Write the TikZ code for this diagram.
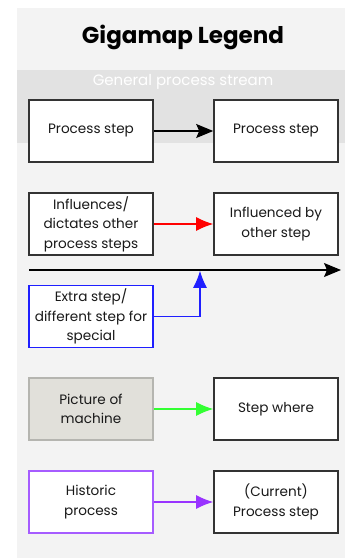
\documentclass[tikz,border=0pt]{standalone}
\usepackage{fontspec}
\setmainfont{Poppins}
\usetikzlibrary{arrows.meta}
\definecolor{panelbg}{HTML}{F3F3F3}
\definecolor{bandbg}{HTML}{E2E2E2}
\definecolor{boxline}{HTML}{333333}
\definecolor{machinefill}{HTML}{E1E0DA}
\definecolor{machineline}{HTML}{B5B5B0}
\definecolor{extrablue}{HTML}{1F1FFF}
\definecolor{histpurple}{HTML}{A65CFF}
\definecolor{histarrow}{HTML}{9933FF}
\definecolor{machgreen}{HTML}{33FF33}
\begin{document}
\begin{tikzpicture}[x=1pt,y=-1pt,
  stepbox/.style={draw=boxline,line width=1.6pt,fill=white,minimum width=124pt,minimum height=62pt,
    inner sep=0pt,align=center,font=\fontsize{13.6}{19.5}\selectfont,text=black!90},
  flow/.style={line width=1.2pt,-{Stealth[length=17pt,width=14pt,inset=3pt]}},
  tip/.style={line width=1.2pt,-{Latex[length=17pt,width=14pt]}}]
  \useasboundingbox (0,0) rectangle (345,558);
  % backdrop panels
  \fill[white] (0,0) rectangle (345,558);
  \fill[panelbg] (17,8) rectangle (345,558);
  \fill[bandbg] (17,70) rectangle (345,143);
  % headings
  \node[font=\fontsize{23}{26}\selectfont\bfseries] (title) at (183,37) {Gigamap Legend};
  \node[font=\fontsize{15}{17}\selectfont,text=white] (stream) at (183,82) {General process stream};
  % general flow
  \node[stepbox] (p1) at (91,131) {Process step};
  \node[stepbox] (p2) at (276,131) {Process step};
  \draw[flow,black] (p1) -- (p2);
  % influence
  \node[stepbox] (inf) at (91,224) {Influences/\\dictates other\\process steps};
  \node[stepbox] (infd) at (276,224) {Influenced by\\other step};
  \draw[tip,red] (inf) -- (infd);
  % main stream line
  \coordinate (ms) at (29,270);
  \coordinate (me) at (341,270);
  \draw[flow,black] (ms) -- (me);
  % extra step
  \node[stepbox,draw=extrablue] (ex) at (91,316.5) {Extra step/\\different step for\\special};
  \coordinate (join) at (200,270.8);
  \draw[tip,extrablue] (ex.east) -| (join);
  % machine
  \node[stepbox,fill=machinefill,draw=machineline] (mach) at (91,409) {Picture of\\machine};
  \node[stepbox] (where) at (276,409) {Step where};
  \draw[tip,machgreen] (mach) -- (where);
  % historic
  \node[stepbox,draw=histpurple] (hist) at (91,502) {Historic\\process};
  \node[stepbox] (cur) at (276,502) {(Current)\\Process step};
  \draw[tip,histarrow] (hist) -- (cur);
\end{tikzpicture}
\end{document}
